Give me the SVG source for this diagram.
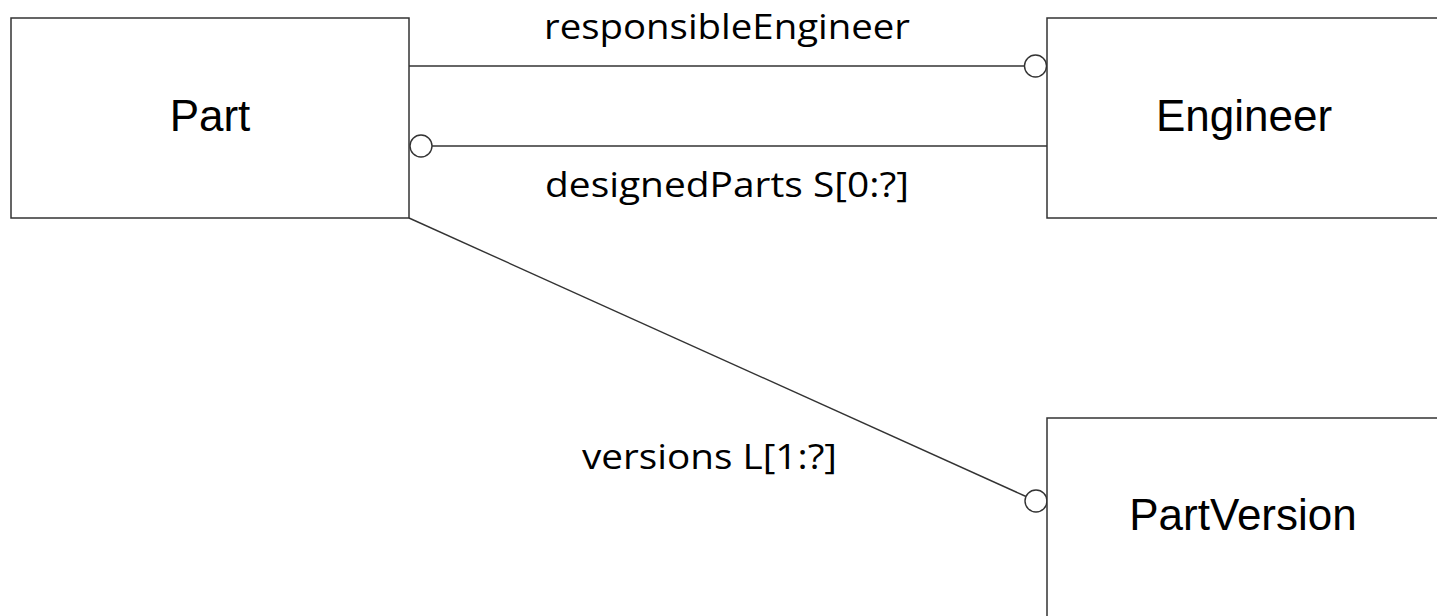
<svg xmlns="http://www.w3.org/2000/svg" width="1437" height="616" viewBox="0 0 1437 616">
<style>
.box{fill:#fff;stroke:#333;stroke-width:1.5}
.name{font-family:"Liberation Sans",Arial,sans-serif;font-size:44px;fill:#000;text-anchor:middle}
.conn{stroke:#333;stroke-width:1.4;fill:none}
.end{fill:#fff;stroke:#333;stroke-width:1.4}
.lbl{font-family:"Open Sans","Liberation Sans",sans-serif;font-size:34px;fill:#000}
</style>
<rect width="1437" height="616" fill="#fff"/>
<g id="connectors">
<g id="c-responsibleEngineer">
<line class="conn" x1="409" y1="66" x2="1024" y2="66"/>
<circle class="end" cx="1035.5" cy="66" r="11"/>
<text class="lbl" x="544" y="39" textLength="366" lengthAdjust="spacingAndGlyphs">responsibleEngineer</text>
</g>
<g id="c-designedParts">
<line class="conn" x1="432" y1="146" x2="1047" y2="146"/>
<circle class="end" cx="421" cy="146" r="11"/>
<text class="lbl" x="545" y="197" textLength="364" lengthAdjust="spacingAndGlyphs">designedParts S[0:?]</text>
</g>
<g id="c-versions">
<line class="conn" x1="409" y1="218" x2="1026" y2="496.5"/>
<circle class="end" cx="1036" cy="501" r="11"/>
<text class="lbl" x="582" y="469" textLength="255" lengthAdjust="spacingAndGlyphs">versions L[1:?]</text>
</g>
</g>
<g id="node-Part">
<rect class="box" x="11" y="18" width="398" height="200"/>
<text class="name" x="210" y="131">Part</text>
</g>
<g id="node-Engineer">
<rect class="box" x="1047" y="18" width="398" height="200"/>
<text class="name" x="1244" y="131">Engineer</text>
</g>
<g id="node-PartVersion">
<rect class="box" x="1047" y="418" width="398" height="200"/>
<text class="name" x="1243" y="530">PartVersion</text>
</g>
</svg>
